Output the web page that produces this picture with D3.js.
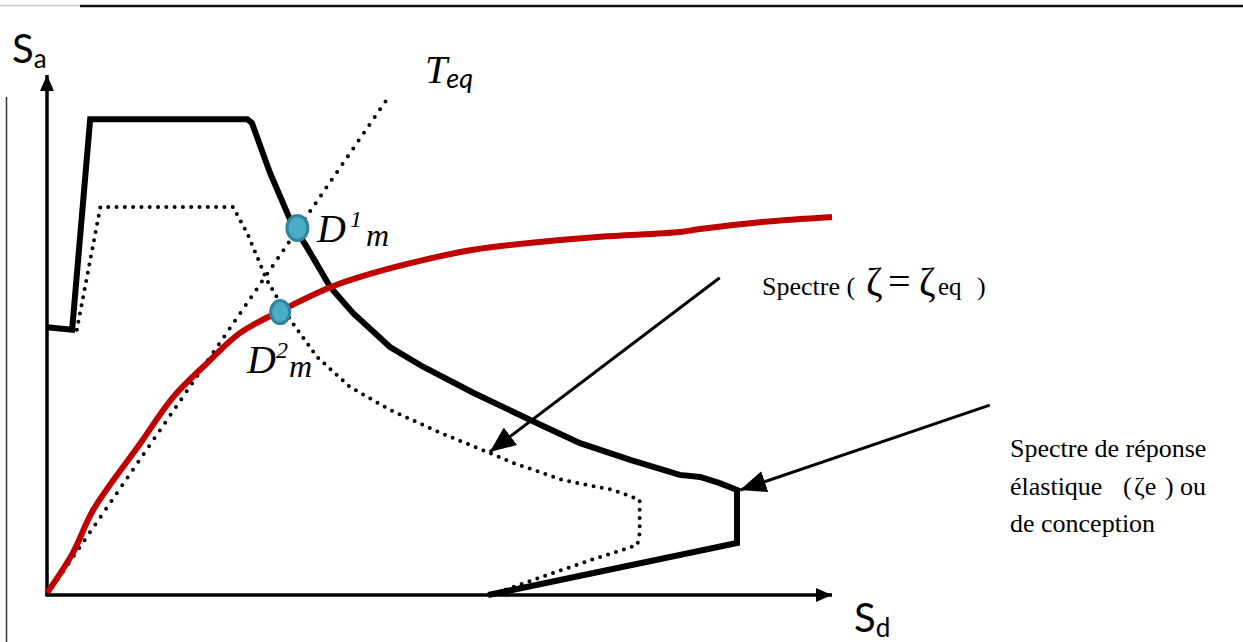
<!DOCTYPE html>
<html>
<head>
<meta charset="utf-8">
<script src="https://cdn.jsdelivr.net/npm/d3@7"></script>
<style>
  body { margin: 0; background: #fff; }
  svg { display: block; }
</style>
</head>
<body>
<svg id="plot" width="1243" height="642"></svg>
<script>
//load our svg
let svg = d3.select("#plot")

//chart data (abstract units: Sd and Sa both 0..100)
//elastic / design spectrum (thick black)
let elastic_sd = [0, 3.2, 5.5, 25.5, 26.1, 28.4, 31.0, 33.1, 36.1, 39.0, 43.7, 47.9, 54.3, 61.5, 67.9, 74.3, 80.6, 83.2, 85.7, 87.9, 87.9, 56.2]
let elastic_sa = [51.5, 51.0, 91.5, 91.5, 90.8, 81.2, 72.1, 66.9, 59.2, 54.2, 47.7, 43.9, 38.9, 33.7, 29.2, 26.0, 23.1, 22.7, 21.5, 20.2, 10.0, 0]
//reduced spectrum for zeta = zeta_eq (dotted)
let reduced_sd = [3.8, 6.8, 23.7, 25.5, 28.0, 31.0, 34.4, 38.6, 43.7, 50.1, 56.4, 59.4, 65.7, 72.1, 75.5, 75.5, 75.2, 69.2, 56.4]
let reduced_sa = [51.0, 74.6, 74.6, 69.6, 60.6, 52.9, 45.8, 40.0, 35.6, 31.2, 27.3, 25.4, 22.1, 20.2, 18.3, 11.9, 9.6, 6.7, 0]
//capacity curve (red)
let capacity_sd = [0, 3.3, 5.9, 11.9, 16.1, 20.4, 24.6, 29.7, 36.1, 41.5, 47.9, 54.3, 62.8, 70.5, 80.6, 83.2, 90.8, 100]
let capacity_sa = [0.4, 8.1, 16.4, 29.2, 38.1, 44.6, 50.4, 54.6, 59.2, 61.9, 64.4, 66.4, 67.9, 68.9, 69.8, 70.4, 71.7, 72.7]
//equivalent period line
let teq_sd = [0, 43.7]
let teq_sa = [0, 96.2]
//performance points
let point_names = ["1", "2"]
let point_sd = [31.9, 29.7]
let point_sa = [70.6, 54.4]

//define the bounds of the plot area
let margin_left = 47, plot_right = 832, plot_top = 75, plot_bottom = 595;

//scales
let x_scale = d3.scaleLinear([0, 100], [margin_left, plot_right])
let y_scale = d3.scaleLinear([0, 100], [plot_bottom, plot_top])

let zip = (xs, ys) => xs.map((v, i) => [v, ys[i]])
let line = d3.line().x(d => x_scale(d[0])).y(d => y_scale(d[1]))

//arrow markers
let defs = svg.append("defs")
defs.append("marker").attr("id", "axisArrow")
  .attr("markerUnits", "userSpaceOnUse")
  .attr("viewBox", "0 0 16 14").attr("refX", 16).attr("refY", 7)
  .attr("markerWidth", 16).attr("markerHeight", 14).attr("orient", "auto")
  .append("path").attr("d", "M0,0L16,7L0,14Z").attr("fill", "#000")
defs.append("marker").attr("id", "noteArrow")
  .attr("markerUnits", "userSpaceOnUse")
  .attr("viewBox", "0 0 26 22").attr("refX", 26).attr("refY", 11)
  .attr("markerWidth", 26).attr("markerHeight", 22).attr("orient", "auto")
  .append("path").attr("d", "M0,0L26,11L0,22Z").attr("fill", "#000")

//page frame lines (top rule and left rule)
svg.append("line").attr("x1", 0).attr("x2", 80).attr("y1", 5.5).attr("y2", 5.5)
  .attr("stroke", "#c8c8c8").attr("stroke-width", 1.5)
svg.append("line").attr("x1", 80).attr("x2", 1243).attr("y1", 6).attr("y2", 6)
  .attr("stroke", "#111").attr("stroke-width", 2.5)
svg.append("line").attr("x1", 6.5).attr("x2", 6.5).attr("y1", 97).attr("y2", 642)
  .attr("stroke", "#333").attr("stroke-width", 1.5)

//axes with arrow heads
svg.append("line")
  .attr("x1", x_scale(0)).attr("y1", y_scale(0)).attr("x2", x_scale(0)).attr("y2", y_scale(100))
  .attr("stroke", "#000").attr("stroke-width", 3.5).attr("marker-end", "url(#axisArrow)")
svg.append("line")
  .attr("x1", x_scale(0)).attr("y1", y_scale(0)).attr("x2", x_scale(100)).attr("y2", y_scale(0))
  .attr("stroke", "#000").attr("stroke-width", 3.5).attr("marker-end", "url(#axisArrow)")

//Teq line (dotted)
svg.append("path").datum(zip(teq_sd, teq_sa)).attr("d", line)
  .attr("fill", "none").attr("stroke", "#000").attr("stroke-width", 4)
  .attr("stroke-linecap", "round").attr("stroke-dasharray", "0 9.5")

//reduced spectrum (dotted)
svg.append("path").datum(zip(reduced_sd, reduced_sa)).attr("d", line)
  .attr("fill", "none").attr("stroke", "#000").attr("stroke-width", 4)
  .attr("stroke-linecap", "round").attr("stroke-dasharray", "0 8.3")

//elastic spectrum
svg.append("path").datum(zip(elastic_sd, elastic_sa)).attr("d", line)
  .attr("fill", "none").attr("stroke", "#000").attr("stroke-width", 6)
  .attr("stroke-linejoin", "miter")

//capacity curve
svg.append("path").datum(zip(capacity_sd, capacity_sa)).attr("d", line.curve(d3.curveCatmullRom))
  .attr("fill", "none").attr("stroke", "#c00000").attr("stroke-width", 6)
line.curve(d3.curveLinear)

//performance points
svg.append("g").selectAll("ellipse")
  .data(point_names)
  .join("ellipse")
  .attr("cx", (d, i) => x_scale(point_sd[i]))
  .attr("cy", (d, i) => y_scale(point_sa[i]))
  .attr("rx", (d, i) => i == 0 ? 10.5 : 9.5)
  .attr("ry", (d, i) => i == 0 ? 12.5 : 11.5)
  .attr("fill", "#4bacc6").attr("stroke", "#31849b").attr("stroke-width", 3)

//annotation arrows
let notes = [[[85.7, 61.0], [56.4, 27.5]], [[120.1, 36.5], [88.3, 20.2]]]
svg.append("g").selectAll("path")
  .data(notes)
  .join("path")
  .attr("d", line)
  .attr("stroke", "#000").attr("stroke-width", 3).attr("fill", "none")
  .attr("marker-end", "url(#noteArrow)")

//axis labels
let sa = svg.append("text").attr("x", 12).attr("y", 63)
  .attr("font-family", "Lato, 'Open Sans', sans-serif").attr("font-size", 40)
sa.append("tspan").text("S")
sa.append("tspan").attr("font-size", 26).attr("dy", 5).text("a")

let sdl = svg.append("text").attr("x", 854).attr("y", 632)
  .attr("font-family", "Lato, 'Open Sans', sans-serif").attr("font-size", 40)
sdl.append("tspan").text("S")
sdl.append("tspan").attr("font-size", 26).attr("dy", 5).text("d")

//Teq label
let teq = svg.append("text").attr("x", 425).attr("y", 83)
teq.append("tspan").attr("font-family", "'Liberation Serif', serif").attr("font-style", "italic")
  .attr("font-size", 40).text("T")
teq.append("tspan").attr("font-family", "Lato, sans-serif").attr("font-style", "italic")
  .attr("font-size", 27).attr("dy", 5).attr("dx", -1).text("eq")

//point labels D^i_m
let lab_pos = [[317, 242], [247, 373]]
point_names.forEach(function(n, i){
  let t = svg.append("text").attr("x", lab_pos[i][0]).attr("y", lab_pos[i][1])
    .attr("font-family", "'Liberation Serif', serif").attr("font-style", "italic")
  t.append("tspan").attr("font-size", 40).text("D")
  t.append("tspan").attr("font-size", 24).attr("dy", -15).attr("dx", i == 0 ? 4 : 0).text(n)
  t.append("tspan").attr("font-size", 32).attr("dy", 19).attr("dx", i == 0 ? 4 : 1).text("m")
})

//note texts
let serif = "'Liberation Serif', 'Times New Roman', serif"
let n1 = svg.append("text").attr("y", 295).attr("font-family", serif).attr("font-size", 26)
n1.append("tspan").attr("x", 762).text("Spectre (")
n1.append("tspan").attr("x", 866).attr("font-size", 40).text("ζ")
n1.append("tspan").attr("x", 888).attr("font-size", 40).text("=")
n1.append("tspan").attr("x", 919).attr("font-size", 40).text("ζ")
n1.append("tspan").attr("x", 938).attr("font-size", 25).text("eq")
n1.append("tspan").attr("x", 977).text(")")

let n2 = svg.append("g").attr("font-family", serif).attr("font-size", 26)
n2.append("text").attr("x", 1010).attr("y", 457).text("Spectre de réponse")
let l2 = n2.append("text").attr("y", 495)
l2.append("tspan").attr("x", 1010).text("élastique")
l2.append("tspan").attr("x", 1123).text("(")
l2.append("tspan").attr("x", 1134).text("ζe")
l2.append("tspan").attr("x", 1165).text(")")
l2.append("tspan").attr("x", 1180).text("ou")
n2.append("text").attr("x", 1010).attr("y", 532).text("de conception")
</script>
</body>
</html>
